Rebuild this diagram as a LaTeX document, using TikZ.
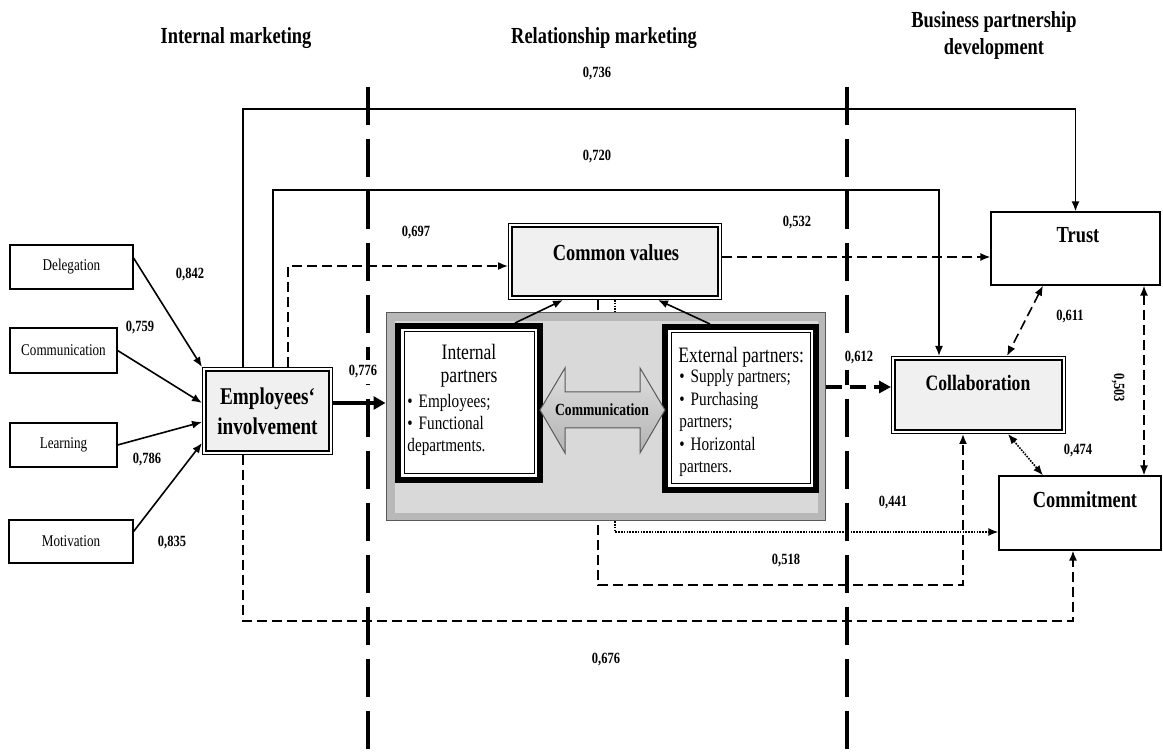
\documentclass[tikz,border=0pt]{standalone}
\usepackage{xcolor}
\usepackage{fontspec}
\setmainfont{Liberation Serif}[FakeStretch=0.8]
\usepackage{tikz}
\usetikzlibrary{arrows.meta}
\definecolor{boxfill}{HTML}{F0F0F0}
\definecolor{bandgray}{HTML}{B8B8B8}
\definecolor{panelgray}{HTML}{D9D9D9}
\tikzset{
  itembox/.style={draw, line width=0.6pt, fill=white, font=\fontsize{8.2}{9}\selectfont},
  keybox/.style={draw, line width=0.7pt, double=white, double distance=0.9pt, fill=boxfill, outer sep=1.15pt},
  outcome/.style={draw, line width=0.6pt, fill=white},
  partbox/.style={draw, line width=3pt, fill=white},
  headline/.style={font=\fontsize{11.5}{13}\selectfont\bfseries, align=center},
  bigtxt/.style={font=\fontsize{11.5}{13}\selectfont\bfseries},
  listtxt/.style={font=\fontsize{9.5}{11}\selectfont, align=left, inner sep=0pt},
  coef/.style={font=\fontsize{7.8}{8.5}\selectfont\bfseries, inner sep=1.5pt},
  divline/.style={line width=1.6pt, dash pattern=on 19pt off 7pt},
  conn/.style={line width=0.8pt, -{Latex[length=5pt,width=4pt]}},
  dconn/.style={conn, dash pattern=on 5pt off 2.5pt},
  dotconn/.style={conn, dash pattern=on 0.8pt off 0.6pt},
  bothdash/.style={dconn, {Latex[length=5pt,width=4pt]}-{Latex[length=5pt,width=4pt]}},
  bothdot/.style={dotconn, {Latex[length=5pt,width=4pt]}-{Latex[length=5pt,width=4pt]}},
}

\begin{document}
\begin{tikzpicture}[x=0.5pt, y=-0.5pt]
  \useasboundingbox (0,0) rectangle (1163,753);

  \node[headline] (hdrint) at (236,38) {Internal marketing};
  \node[headline] (hdrrel) at (604,38) {Relationship marketing};
  \node[headline, font=\fontsize{11.5}{13.5}\selectfont\bfseries] (hdrbus) at (994,35) {Business partnership\\development};

  \draw[divline] (368,87) -- (368,753);
  \draw[divline] (847,87) -- (847,753);

  \node[itembox, minimum width=61.5pt, minimum height=22pt] (deleg) at (71.5,267) {Delegation};
  \node[itembox, minimum width=53.5pt, minimum height=22.5pt] (commu) at (63.5,350.5) {Communication};
  \node[itembox, minimum width=53.5pt, minimum height=22pt] (learn) at (63.5,445) {Learning};
  \node[itembox, minimum width=62pt, minimum height=21.5pt] (motiv) at (71,541.5) {Motivation};

  \node[keybox, minimum width=63.2pt, minimum height=41.7pt, font=\fontsize{12}{15}\selectfont\bfseries, align=center] (emp) at (267.5,411) {Employees‘\\involvement};
  \node[keybox, minimum width=104.7pt, minimum height=36.2pt] (cval) at (615,261.5) {};
  \node[bigtxt] (cvaltxt) at (616,253) {Common values};
  \node[outcome, minimum width=84.5pt, minimum height=36.5pt] (trust) at (1075.5,248.5) {};
  \node[bigtxt] (trusttxt) at (1078,235) {Trust};
  \node[keybox, minimum width=85.2pt, minimum height=36.7pt] (collab) at (978.5,395) {};
  \node[bigtxt, font=\fontsize{11}{13}\selectfont\bfseries] (collabtxt) at (978,383) {Collaboration};
  \node[outcome, minimum width=81pt, minimum height=37pt] (commit) at (1080,513) {};
  \node[bigtxt] (committxt) at (1085,500) {Commitment};

  \draw[conn] ([yshift=4.5pt]deleg.east) -- (emp.north west);
  \draw[conn] (commu.east) -- ([yshift=4pt]emp.west);
  \draw[conn] (learn.east) -- ([yshift=-5.5pt]emp.west);
  \draw[conn] ([yshift=5pt]motiv.east) -- ([yshift=6pt]emp.south west);

  \coordinate (y736) at (0,109);
  \coordinate (y720) at (0,190);
  \coordinate (y518) at (0,585);
  \coordinate (y676) at (0,621);
  \coordinate (e736) at ([xshift=20.5pt]emp.north west);
  \coordinate (e720) at ([xshift=35.5pt]emp.north west);
  \coordinate (e697) at ([xshift=43pt]emp.north west);
  \coordinate (e676) at ([xshift=20.5pt]emp.south west);
  \coordinate (c720) at ([xshift=24pt]collab.north west);
  \coordinate (cvin) at ([yshift=-2.25pt]cval.west);
  \coordinate (cvout) at ([yshift=2.25pt]cval.east);
  \coordinate (cv518) at ([xshift=-8.5pt]cval.south);
  \coordinate (co518) at ([xshift=-7.75pt]collab.south);
  \coordinate (cm441) at ([yshift=-9.5pt]commit.west);
  \coordinate (cm676) at ([xshift=-3.5pt]commit.south);
  \coordinate (co612) at ([yshift=4pt]collab.west);
  \coordinate (empout) at ([yshift=4pt]emp.east);
  \coordinate (tc) at ([xshift=34.25pt]trust.south);

  \draw[conn] (e736) -- (e736 |- y736) -| (trust.north);
  \draw[conn] (e720) -- (e720 |- y720) -| (c720);
  \draw[dconn] (e697) |- (cvin);
  \draw[dconn] (cvout) -- (cvout -| trust.west);
  \draw[dconn] (cv518) -- (cv518 |- y518) -| (co518);
  \draw[dotconn] (cval.south) -- (cval.south |- cm441) -- (cm441);
  \draw[dconn] (e676) -- (e676 |- y676) -| (cm676);

  \node[draw=gray!70!black, line width=0.5pt, fill=bandgray, minimum width=219.5pt, minimum height=104pt] (group) at (605.5,417) {};
  \fill[panelgray] ([shift={(4.5pt,-4.5pt)}]group.north west) rectangle ([shift={(-4pt,4pt)}]group.south east);

  \node[partbox, minimum width=71pt, minimum height=77pt] (intp) at (469,403) {};
  \draw[line width=0.5pt] ([shift={(4.5pt,-4.5pt)}]intp.north west) rectangle ([shift={(-4.5pt,4.5pt)}]intp.south east);
  \node[partbox, minimum width=75.5pt, minimum height=81.5pt] (extp) at (740.5,408.5) {};
  \draw[line width=0.5pt] ([shift={(4.5pt,-4.5pt)}]extp.north west) rectangle ([shift={(-4.5pt,4.5pt)}]extp.south east);

  \node[font=\fontsize{11}{11.5}\selectfont, align=center] (intptitle) at (469,366) {Internal\\partners};
  \node[listtxt, anchor=north west] (intplist) at (407,394) {\textbullet\hspace{3pt}Employees;\\\textbullet\hspace{3pt}Functional\\departments.};
  \node[font=\fontsize{11}{11.5}\selectfont, anchor=west, inner sep=0pt] (extptitle) at (678,357) {External partners:};
  \node[listtxt, font=\fontsize{9.5}{11.25}\selectfont, anchor=north west] (extplist) at (679,369) {\textbullet\hspace{3pt}Supply partners;\\\textbullet\hspace{3pt}Purchasing\\partners;\\\textbullet\hspace{3pt}Horizontal\\partners.};

  \shadedraw[top color=gray!25, middle color=gray!8, bottom color=gray!60, draw=gray!70!black, line width=0.5pt]
    (540,410) -- (565,368) -- (565,392) -- (640,392) -- (640,368) -- (665,410)
    -- (640,453) -- (640,428) -- (565,428) -- (565,453) -- cycle;
  \node[font=\fontsize{8.5}{10}\selectfont\bfseries] (commtxt) at (602,410) {Communication};

  \draw[conn] ([xshift=23pt]intp.north) -- ([xshift=-26pt]cval.south);
  \draw[conn] ([xshift=-15.25pt]extp.north) -- ([xshift=21.5pt]cval.south);
  \draw[line width=2pt, -{Triangle[length=6pt,width=6.5pt]}] (empout) -- (empout -| group.west);
  \draw[line width=1.6pt, dash pattern=on 8pt off 4pt, -{Triangle[length=6pt,width=6pt]}] (group.east |- co612) -- (co612);

  \draw[bothdash] ([xshift=-16.25pt]trust.south) -- ([xshift=14.25pt]collab.north);
  \draw[bothdot] ([xshift=14.75pt]collab.south) -- ([xshift=-18.5pt]commit.north);
  \draw[bothdash] (tc) -- (tc |- commit.north);

  \node[coef] (k842) at (190,275) {0,842};
  \node[coef] (k759) at (140,328) {0,759};
  \node[coef] (k786) at (147,460) {0,786};
  \node[coef] (k835) at (172,543) {0,835};
  \node[coef, fill=white, inner sep=3pt] (k776) at (363,372) {0,776};
  \node[coef] (k736) at (597,74) {0,736};
  \node[coef] (k720) at (597,157) {0,720};
  \node[coef] (k697) at (416,233) {0,697};
  \node[coef] (k532) at (797,223) {0,532};
  \node[coef, fill=white, inner sep=3pt] (k612) at (859,358) {0,612};
  \node[coef] (k611) at (1070,317) {0,611};
  \node[coef] (k474) at (1078,451) {0,474};
  \node[coef, rotate=-90] (k503) at (1118,388) {0,503};
  \node[coef] (k441) at (893,503) {0,441};
  \node[coef] (k518) at (786,561) {0,518};
  \node[coef] (k676) at (606,660) {0,676};
\end{tikzpicture}
\end{document}
